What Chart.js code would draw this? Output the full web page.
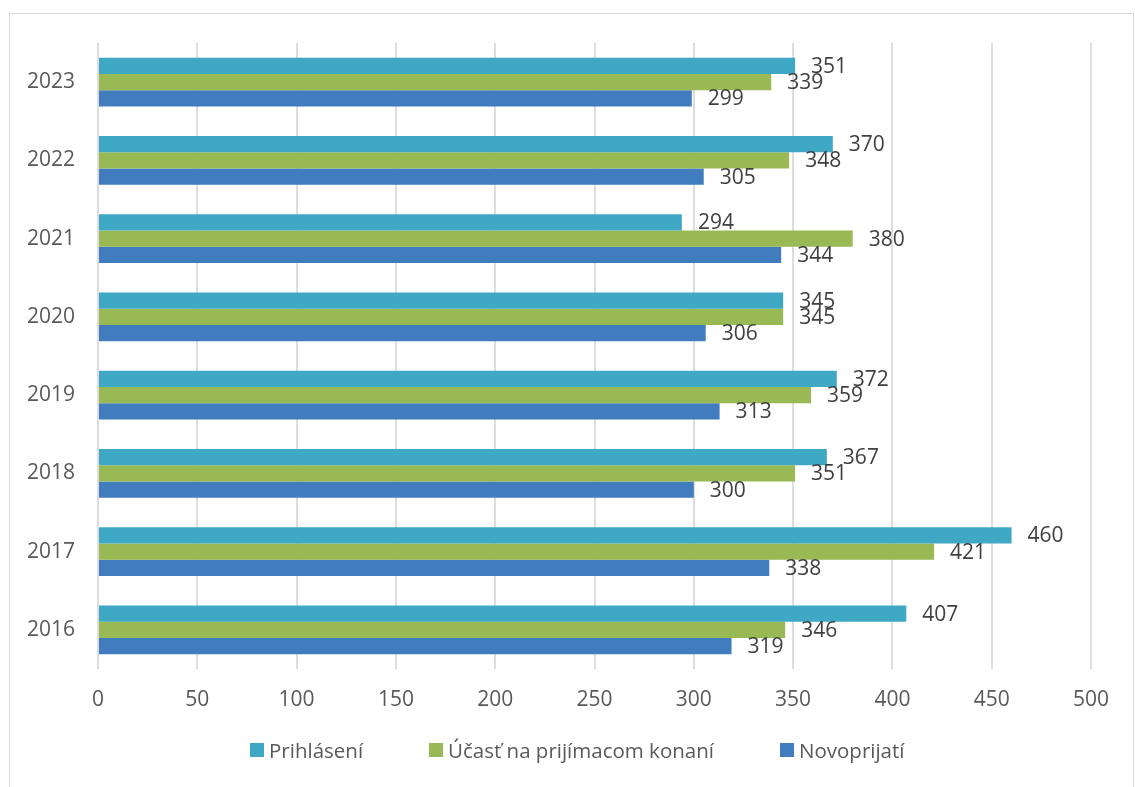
<!DOCTYPE html>
<html>
<head>
<meta charset="utf-8">
<script src="https://cdn.jsdelivr.net/npm/chart.js@4.4.1/dist/chart.umd.min.js"></script>
<style>
  html, body { margin: 0; padding: 0; background: #fff; }
  body { width: 1135px; height: 787px; position: relative; overflow: hidden; font-family: "Open Sans", sans-serif; }
  #frame { position: absolute; left: 9px; top: 13px; width: 1125px; height: 790px; border: 1px solid #d9d9d9; box-sizing: border-box; }
  #wrap { position: absolute; left: 0; top: 0; width: 1135px; height: 787px; }
  .leg { position: absolute; top: 738px; display: flex; align-items: center; font-size: 20.5px; color: #595959; white-space: nowrap; line-height: 24px; }
  .leg span.box { display: inline-block; width: 14px; height: 14px; margin-right: 5px; }
</style>
</head>
<body>
<div id="frame"></div>
<div id="wrap"><canvas id="c" width="1135" height="787"></canvas></div>
<div id="legend"></div>
<script>
const categories = ['2023', '2022', '2021', '2020', '2019', '2018', '2017', '2016'];
const prihlaseni = [351, 370, 294, 345, 372, 367, 460, 407];
const ucast = [339, 348, 380, 345, 359, 351, 421, 346];
const novoprijati = [299, 305, 344, 306, 313, 300, 338, 319];
const seriesNames = ['Prihlásení', 'Účasť na prijímacom konaní', 'Novoprijatí'];
const seriesColors = ['#3FA9C5', '#98B954', '#417DBE'];
const xTicks = [0, 50, 100, 150, 200, 250, 300, 350, 400, 450, 500];

const FONT = '"Open Sans", sans-serif';

const valueLabels = {
  id: 'valueLabels',
  afterDatasetsDraw(chart) {
    const ctx = chart.ctx;
    ctx.save();
    ctx.font = '21px ' + FONT;
    ctx.fillStyle = '#404040';
    ctx.textAlign = 'left';
    ctx.textBaseline = 'middle';
    chart.data.datasets.forEach((ds, di) => {
      const meta = chart.getDatasetMeta(di);
      meta.data.forEach((bar, i) => {
        ctx.fillText(String(ds.data[i]), bar.x + 16, bar.y + 1);
      });
    });
    ctx.restore();
  }
};

new Chart(document.getElementById('c'), {
  type: 'bar',
  data: {
    labels: categories,
    datasets: [
      { label: seriesNames[0], data: prihlaseni, backgroundColor: seriesColors[0] },
      { label: seriesNames[1], data: ucast, backgroundColor: seriesColors[1] },
      { label: seriesNames[2], data: novoprijati, backgroundColor: seriesColors[2] }
    ]
  },
  options: {
    indexAxis: 'y',
    responsive: false,
    animation: false,
    devicePixelRatio: 1,
    layout: { padding: { top: 43, right: 44, left: 10, bottom: 0 } },
    datasets: { bar: { categoryPercentage: 0.625, barPercentage: 1.0, borderWidth: 0 } },
    plugins: { legend: { display: false }, tooltip: { enabled: false } },
    scales: {
      x: {
        min: 0, max: 500,
        afterBuildTicks(scale) { scale.ticks = xTicks.map(v => ({ value: v })); },
        afterFit(scale) { scale.height = 118; },
        grid: { color: '#dddddd', lineWidth: 2, drawTicks: false },
        border: { display: false },
        ticks: { color: '#595959', font: { family: FONT, size: 21 }, padding: 18 }
      },
      y: {
        afterFit(scale) { scale.width = 88; },
        grid: { display: false },
        border: { display: false },
        ticks: { color: '#595959', font: { family: FONT, size: 21 }, padding: 15 }
      }
    }
  },
  plugins: [valueLabels]
});

const legendX = [250, 429, 780];
const legend = document.getElementById('legend');
seriesNames.forEach((n, i) => {
  const d = document.createElement('div');
  d.className = 'leg';
  d.style.left = legendX[i] + 'px';
  const b = document.createElement('span');
  b.className = 'box';
  b.style.background = seriesColors[i];
  d.appendChild(b);
  d.appendChild(document.createTextNode(n));
  legend.appendChild(d);
});
</script>
</body>
</html>
